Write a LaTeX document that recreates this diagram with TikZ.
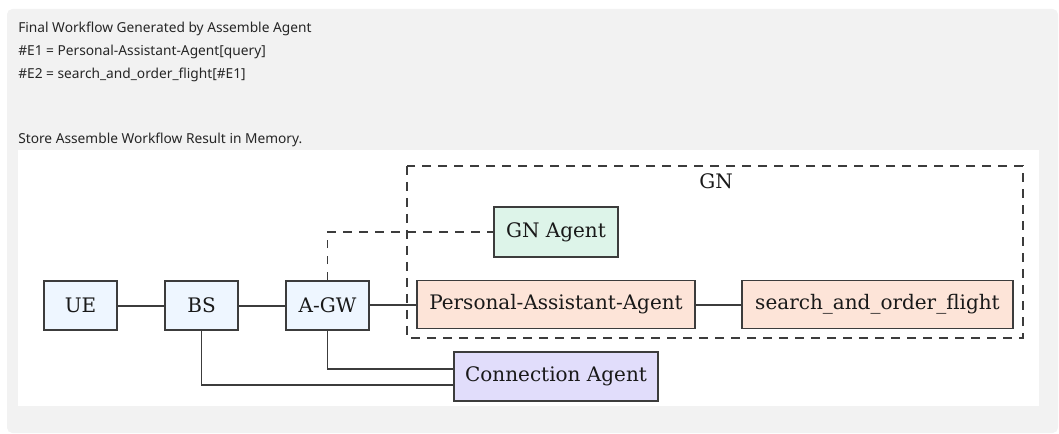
\documentclass[tikz,border=0pt]{standalone}
\usepackage{fontspec}
\newfontfamily\diagfont{DejaVu Serif}
\newfontfamily\uifont{Noto Sans}
\definecolor{panelgray}{HTML}{F2F2F2}
\definecolor{edge}{HTML}{3C3C3C}
\definecolor{netblue}{HTML}{EEF6FF}
\definecolor{agentgreen}{HTML}{DDF4E9}
\definecolor{agentsalmon}{HTML}{FDE4D8}
\definecolor{agentlilac}{HTML}{E1DDFB}
\definecolor{uitext}{HTML}{262626}
\tikzset{
  box/.style={draw=edge, line width=1.15pt, inner sep=0pt, minimum height=49*0.75pt,
    font=\diagfont\fontsize{15}{18}\selectfont, text=black!90},
  netbox/.style={box, fill=netblue},
  gnbox/.style={box, fill=agentgreen},
  palbox/.style={box, fill=agentsalmon},
  connbox/.style={box, fill=agentlilac},
  link/.style={draw=edge, line width=1.15pt},
  dashlink/.style={draw=edge, line width=1.15pt, dash pattern=on 6.5pt off 5.5pt},
  uiline/.style={anchor=base west, inner sep=0pt, text=uitext,
    font=\uifont\fontsize{10.3}{12}\selectfont},
}
\begin{document}
\begin{tikzpicture}[x=0.75pt, y=-0.75pt]
  \useasboundingbox (0,0) rectangle (1059,434);
  % page panels
  \fill[panelgray, rounded corners=4pt] (7,9) rectangle (1058,433);
  \fill[white] (18,150) rectangle (1039,406);

  % log text
  \node[uiline] (l1) at (18,33) {Final Workflow Generated by Assemble Agent};
  \node[uiline] (l2) at (18,56) {\#E1 = Personal-Assistant-Agent[query]};
  \node[uiline] (l3) at (18,79) {\#E2 = search\_and\_order\_flight[\#E1]};
  \node[uiline] (l4) at (18,144) {Store Assemble Workflow Result in Memory.};

  % GN cluster
  \draw[dashlink] (407,166) rectangle (1023,338);
  \node[font=\diagfont\fontsize{15}{18}\selectfont, text=black!90] (gnlabel) at (716,181) {GN};

  % nodes
  \node[netbox, minimum width=73*0.75pt] (ue) at (80.5,305.5) {UE};
  \node[netbox, minimum width=73*0.75pt] (bs) at (201.5,305.5) {BS};
  \node[netbox, minimum width=83*0.75pt] (agw) at (327.5,305.5) {A-GW};
  \node[gnbox, minimum width=124*0.75pt, minimum height=50*0.75pt] (gnagent) at (556,232) {GN Agent};
  \node[palbox, minimum width=278*0.75pt, minimum height=48*0.75pt] (pa) at (556,304.5) {Personal-Assistant-Agent};
  \node[palbox, minimum width=271*0.75pt, minimum height=48*0.75pt] (sof) at (877.5,304.5) {search\_and\_order\_flight};
  \node[connbox, minimum width=204*0.75pt] (conn) at (556,376.5) {Connection Agent};

  % connectors
  \draw[link] (ue.east |- 0,306) -- (bs.west |- 0,306);
  \draw[link] (bs.east |- 0,306) -- (agw.west |- 0,306);
  \draw[link] (agw.east |- 0,305) -- (pa.west |- 0,305);
  \draw[link] (pa.east |- 0,305) -- (sof.west |- 0,305);
  \draw[dashlink] (agw.north) |- (gnagent.west);
  \draw[link] (agw.south) |- (conn.west |- 0,369);
  \draw[link] (bs.south) |- (conn.west |- 0,385);
\end{tikzpicture}
\end{document}
